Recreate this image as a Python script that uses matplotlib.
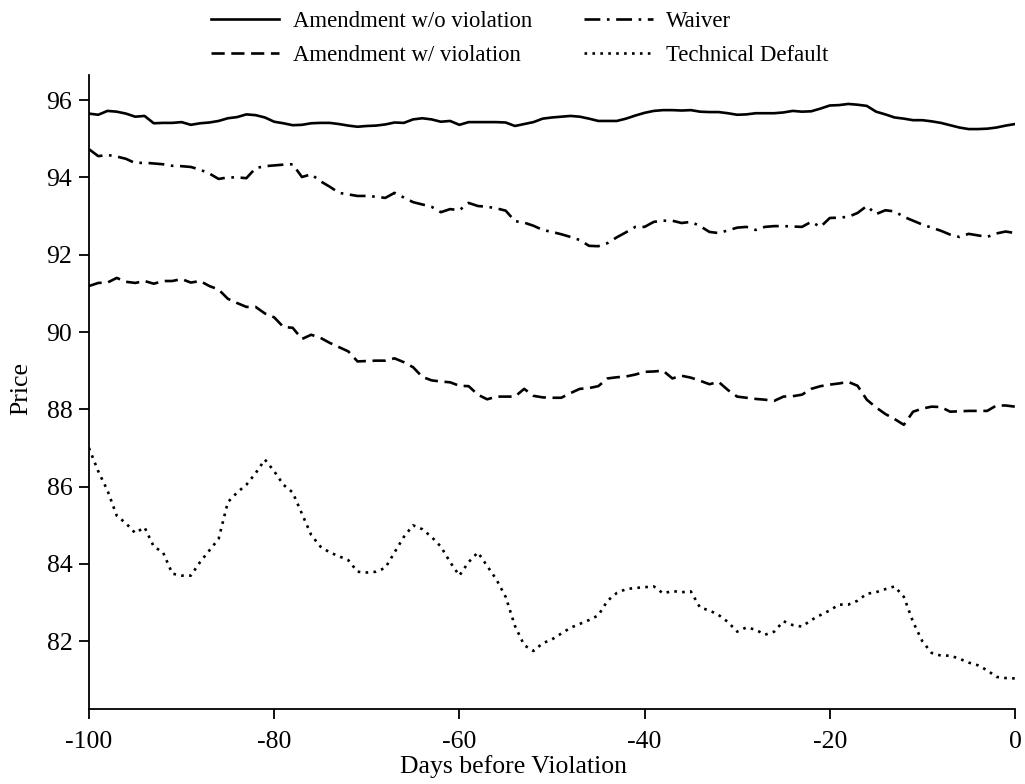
import matplotlib
matplotlib.use("Agg")
import matplotlib.pyplot as plt
import numpy as np

plt.rcParams['font.family'] = ['Liberation Serif', 'DejaVu Serif']
plt.rcParams['axes.unicode_minus'] = False

# days before violation, -100 .. 0
days = np.arange(-100, 1)

amend_no_viol = [
    95.65, 95.62, 95.72, 95.70, 95.65, 95.57, 95.59, 95.40, 95.41, 95.41,
    95.43, 95.36, 95.40, 95.42, 95.46, 95.53, 95.56, 95.63, 95.61, 95.55,
    95.44, 95.40, 95.35, 95.36, 95.40, 95.41, 95.41, 95.38, 95.34, 95.31,
    95.33, 95.34, 95.37, 95.42, 95.41, 95.50, 95.53, 95.50, 95.44, 95.46,
    95.36, 95.43, 95.43, 95.43, 95.43, 95.42, 95.33, 95.38, 95.43, 95.52,
    95.55, 95.57, 95.59, 95.57, 95.52, 95.46, 95.46, 95.46, 95.52, 95.60,
    95.67, 95.72, 95.74, 95.74, 95.73, 95.74, 95.70, 95.69, 95.69, 95.66,
    95.62, 95.63, 95.66, 95.66, 95.66, 95.68, 95.72, 95.70, 95.71, 95.78,
    95.86, 95.87, 95.90, 95.88, 95.85, 95.70, 95.63, 95.55, 95.52, 95.48,
    95.48, 95.45, 95.41, 95.35, 95.29, 95.25, 95.25, 95.26, 95.29, 95.34,
    95.38,
]

amend_viol = [
    91.19, 91.27, 91.28, 91.40, 91.30, 91.27, 91.32, 91.25, 91.32, 91.32,
    91.37, 91.28, 91.32, 91.19, 91.10, 90.86, 90.75, 90.65, 90.65, 90.48,
    90.38, 90.13, 90.11, 89.82, 89.93, 89.85, 89.72, 89.61, 89.50, 89.24,
    89.25, 89.26, 89.26, 89.32, 89.22, 89.09, 88.84, 88.75, 88.72, 88.70,
    88.61, 88.60, 88.38, 88.26, 88.33, 88.33, 88.33, 88.53, 88.35, 88.31,
    88.30, 88.30, 88.42, 88.53, 88.55, 88.60, 88.80, 88.83, 88.85, 88.90,
    88.97, 88.98, 89.00, 88.80, 88.87, 88.82, 88.74, 88.65, 88.71, 88.50,
    88.33, 88.30, 88.27, 88.25, 88.22, 88.33, 88.34, 88.38, 88.53, 88.60,
    88.64, 88.67, 88.71, 88.61, 88.25, 88.05, 87.88, 87.75, 87.60, 87.94,
    88.02, 88.07, 88.06, 87.94, 87.95, 87.96, 87.96, 87.96, 88.10, 88.10,
    88.07,
]

waiver = [
    94.73, 94.55, 94.58, 94.54, 94.48, 94.37, 94.38, 94.36, 94.34, 94.30,
    94.29, 94.27, 94.20, 94.10, 93.96, 94.00, 94.00, 93.98, 94.24, 94.29,
    94.31, 94.33, 94.34, 94.01, 94.08, 93.90, 93.76, 93.60, 93.56, 93.52,
    93.52, 93.50, 93.47, 93.60, 93.48, 93.36, 93.30, 93.24, 93.10, 93.18,
    93.15, 93.34, 93.26, 93.24, 93.20, 93.14, 92.87, 92.83, 92.75, 92.64,
    92.59, 92.53, 92.46, 92.38, 92.23, 92.22, 92.30, 92.45, 92.58, 92.72,
    92.72, 92.85, 92.88, 92.88, 92.82, 92.85, 92.74, 92.59, 92.56, 92.63,
    92.70, 92.72, 92.64, 92.72, 92.74, 92.74, 92.73, 92.72, 92.85, 92.72,
    92.95, 92.96, 92.98, 93.08, 93.26, 93.05, 93.15, 93.12, 92.98, 92.88,
    92.78, 92.70, 92.62, 92.52, 92.46, 92.54, 92.50, 92.46, 92.55, 92.60,
    92.56,
]

tech_default = [
    87.00, 86.40, 85.90, 85.25, 85.05, 84.80, 84.95, 84.45, 84.30, 83.75,
    83.70, 83.70, 84.05, 84.35, 84.65, 85.60, 85.85, 86.05, 86.35, 86.70,
    86.40, 86.05, 85.85, 85.30, 84.75, 84.45, 84.30, 84.20, 84.10, 83.80,
    83.78, 83.80, 83.90, 84.30, 84.70, 85.00, 84.90, 84.70, 84.45, 84.05,
    83.70, 84.05, 84.30, 83.95, 83.60, 83.15, 82.40, 81.90, 81.75, 81.95,
    82.05, 82.20, 82.35, 82.45, 82.55, 82.67, 83.05, 83.25, 83.35, 83.38,
    83.40, 83.42, 83.24, 83.30, 83.27, 83.29, 82.87, 82.80, 82.68, 82.50,
    82.25, 82.36, 82.30, 82.17, 82.25, 82.52, 82.42, 82.38, 82.55, 82.68,
    82.80, 82.95, 82.95, 83.05, 83.23, 83.27, 83.35, 83.42, 83.15, 82.50,
    82.00, 81.70, 81.63, 81.63, 81.55, 81.45, 81.38, 81.25, 81.08, 81.05,
    81.04,
]

fig = plt.figure(figsize=(10.25, 7.84), dpi=100)
ax = fig.add_axes([0.0868, 0.0957, 0.9034, 0.8087])

lw = 1.9
ax.plot(days, amend_no_viol, color='black', lw=lw, ls='-', label='Amendment w/o violation')
ax.plot(days, amend_viol, color='black', lw=lw, ls=(0, (5, 2.5)), label='Amendment w/ violation')
ax.plot(days, waiver, color='black', lw=lw, ls=(0, (6, 2.5, 1, 2.5)), label='Waiver')
ax.plot(days, tech_default, color='black', lw=lw, ls=(0, (1, 2)), label='Technical Default')

ax.set_xlim(-100, 0)
ax.set_ylim(80.25, 96.65)
ax.set_xticks([-100, -80, -60, -40, -20, 0])
ax.set_yticks([82, 84, 86, 88, 90, 92, 94, 96])

for s in ['top', 'right']:
    ax.spines[s].set_visible(False)
for s in ['left', 'bottom']:
    ax.spines[s].set_linewidth(1.3)
ax.tick_params(direction='out', length=7, width=1.3, labelsize=18.5, colors='black')
ax.tick_params(axis='x', pad=9)
ax.tick_params(axis='y', pad=5)

ax.set_xlabel('Days before Violation', fontsize=18.5)
ax.set_ylabel('Price', fontsize=18.5)
# x label sits centred on the figure rather than the axes
ax.xaxis.set_label_coords(0.459, -0.072)
ax.yaxis.set_label_coords(-0.061, 0.505)

fig.legend(loc='upper center', bbox_to_anchor=(0.507, 1.012), ncol=2, frameon=False,
           fontsize=16.4, handlelength=3.0, columnspacing=2.3, labelspacing=0.55,
           handletextpad=0.6)

fig.savefig('out.png', dpi=100)
